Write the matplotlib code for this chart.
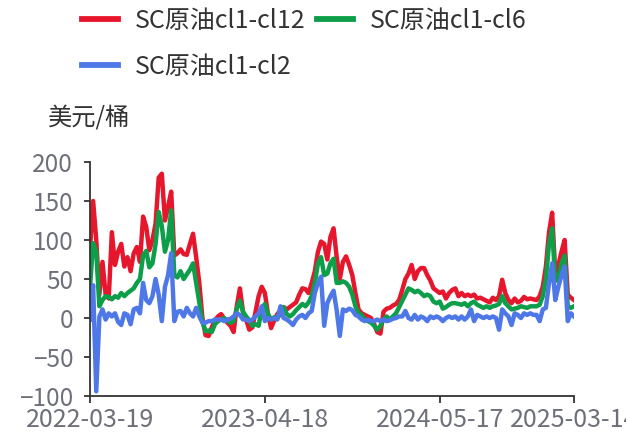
import numpy as np
import pandas as pd
import matplotlib
matplotlib.use('Agg')
from matplotlib import pyplot as plt
import matplotlib.dates as mdates

plt.rcParams['font.family'] = ['Noto Sans CJK SC', 'DejaVu Sans']

# weekly values, 2022-03-19 .. 2025-03-14
start_date = '2022-03-19'
end_date = '2025-03-14'

cl12 = [89, 150, 100, 30, 72, 30, 25, 110, 68, 85, 95, 66, 78, 60, 83, 91, 72, 130, 117, 87,
        100, 121, 180, 185, 125, 143, 162, 80, 83, 88, 82, 81, 95, 108, 78, 45, 0, -22, -23, -12,
        -3, 2, 5, -1, -6, -10, -18, 15, 38, 8, -2, -15, -12, 8, 28, 40, 32, 5, -13, -3,
        5, 10, 14, 11, 14, 17, 20, 30, 38, 37, 32, 45, 60, 85, 98, 95, 75, 104, 115, 78,
        50, 72, 79, 68, 55, 32, 11, 6, 4, 2, 0, -8, -18, -20, 8, 12, 13, 16, 18, 23,
        36, 50, 57, 68, 50, 60, 64, 64, 55, 48, 38, 35, 32, 34, 25, 32, 36, 38, 28, 32,
        28, 30, 28, 30, 25, 26, 24, 22, 20, 26, 23, 28, 49, 32, 23, 19, 25, 20, 22, 27,
        24, 25, 24, 23, 28, 40, 66, 110, 135, 57, 68, 85, 100, 30, 26, 23]

cl6 = [40, 96, 85, 15, 23, 28, 27, 24, 28, 26, 32, 28, 32, 35, 38, 45, 50, 80, 86, 65,
       70, 95, 136, 118, 85, 100, 138, 55, 52, 60, 50, 56, 62, 70, 45, 20, -5, -17, -16, -18,
       -8, -4, -2, 0, -4, -6, -4, 12, 22, 8, 2, -3, -10, -8, -10, 12, 18, 5, -2, 1,
       0, 5, 14, 5, 2, 5, 10, 14, 18, 15, 20, 28, 45, 70, 78, 55, 57, 70, 76, 45,
       45, 47, 45, 40, 30, 15, 6, 4, -2, -4, -6, -10, -15, -10, -2, 2, -2, 2, 6, 14,
       22, 30, 38, 36, 33, 35, 32, 28, 30, 28, 21, 19, 21, 12, 14, 17, 19, 19, 18, 17,
       19, 15, 19, 21, 17, 15, 13, 15, 13, 15, 16, 18, 28, 19, 15, 11, 12, 13, 15, 14,
       13, 15, 15, 15, 17, 28, 50, 95, 115, 48, 48, 70, 80, 15, 13, 15]

cl2 = [-2, 42, -94, 2, 11, -2, 6, 2, 6, -5, -9, 6, 4, -8, 11, 13, 6, 45, 23, 19,
       28, 50, 30, -4, 40, 55, 83, -4, 8, 9, 2, 13, 6, 2, 13, 2, -6, -6, -4, -4,
       -2, -2, -2, -4, -2, -1, 2, 6, 4, -2, -2, -4, -2, 2, 6, 15, -4, 0, -2, 0,
       -2, 15, 0, -2, -5, -9, -2, 2, 4, 0, 6, 9, 32, 45, 53, -10, 19, 28, 35, 10,
       -23, 11, 9, 12, 10, 4, 2, -2, -4, -2, -4, -4, -2, -4, -2, -4, -3, -1, 0, 2,
       2, 9, 0, -2, 4, -2, 2, 0, -4, 2, 0, 2, 0, -4, 0, 2, 0, 2, -2, 2,
       -2, 2, 11, -4, 4, 2, 0, 2, 0, 2, 0, -15, 11, 6, 2, -9, 6, 4, 0, 6,
       4, 6, 4, 4, -4, 11, 13, 45, 70, 23, 40, 55, 66, -4, 6, 2]

tick_dates = ['2022-03-19', '2023-04-18', '2024-05-17', '2025-03-14']

dates = pd.date_range(start_date, end_date, periods=len(cl12))

fig = plt.figure(figsize=(6.26, 4.37), dpi=100)
ax = fig.add_axes([90 / 626, 41 / 437, 484 / 626, 234 / 437])

l_red, = ax.plot(dates, cl12, c='#e6162d', lw=3.2, label='SC原油cl1-cl12')
l_green, = ax.plot(dates, cl6, c='#0c9e48', lw=3.2, label='SC原油cl1-cl6')
l_blue, = ax.plot(dates, cl2, c='#4e78e8', lw=3.2, label='SC原油cl1-cl2')

ax.set_ylim(-100, 200)
ax.set_yticks([-100, -50, 0, 50, 100, 150, 200])
ax.set_xlim(dates[0], dates[-1])
ax.set_xticks(pd.to_datetime(tick_dates))
ax.xaxis.set_major_formatter(mdates.DateFormatter('%Y-%m-%d'))

for s in ['top', 'right']:
    ax.spines[s].set_visible(False)
for s in ['left', 'bottom']:
    ax.spines[s].set_color('#333333')
    ax.spines[s].set_linewidth(1.3)
ax.tick_params(axis='y', length=4, width=1.3, color='#333333', labelcolor='#6e7079',
               labelsize=17.5, pad=8)
ax.tick_params(axis='x', length=5, width=1.3, color='#333333', labelcolor='#6e7079',
               labelsize=18, pad=3)

fig.text(48 / 626, 1 - 118 / 437, '美元/桶', fontsize=17.5, color='#333333', va='center')

leg = fig.legend(handles=[l_red, l_blue, l_green], ncol=2, loc='upper left',
                 bbox_to_anchor=(82 / 626, 1 - 8 / 437), frameon=False, fontsize=18,
                 borderpad=0, borderaxespad=0,
                 handlelength=1.44, handletextpad=0.68, columnspacing=0.45,
                 labelspacing=0.8, labelcolor='#333333')
for h in leg.legend_handles:
    h.set_linewidth(4.2)

plt.savefig('out.png', dpi=100)
